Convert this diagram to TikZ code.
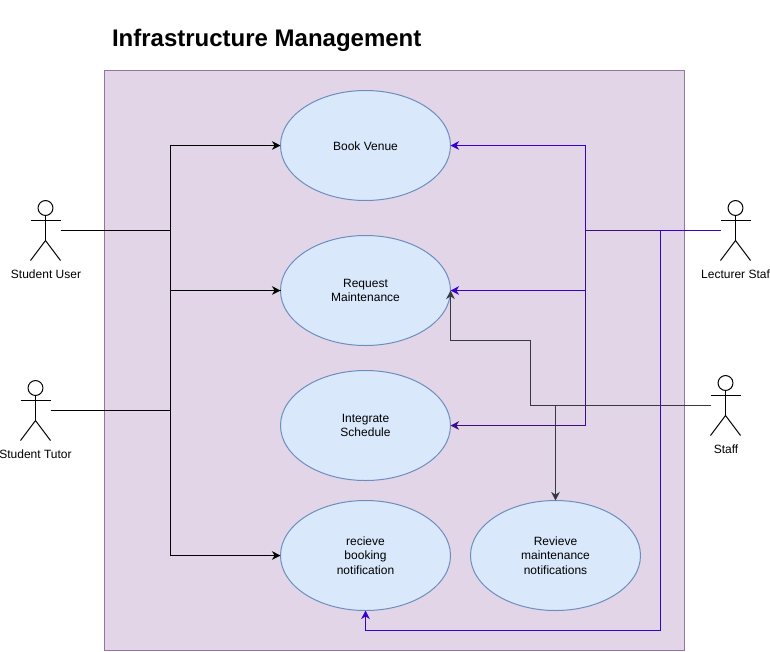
\documentclass[tikz,border=0pt]{standalone}
\usepackage{fontspec}
\setmainfont{Liberation Sans}
\usetikzlibrary{arrows.meta,shapes.geometric,calc}
\definecolor{framefill}{HTML}{E1D5E7}
\definecolor{framedraw}{HTML}{9673A6}
\definecolor{ucfill}{HTML}{DAE8FC}
\definecolor{ucdraw}{HTML}{6C8EBF}
\definecolor{linkblue}{HTML}{3700CC}
\definecolor{linkdeep}{HTML}{3F0A8C}
\definecolor{linkgrey}{HTML}{36393D}
\tikzset{
  x=0.75pt,y=-0.75pt,
  every node/.style={font=\fontsize{9}{11}\selectfont,inner sep=0pt,outer sep=0pt,text=black},
  usecase/.style={ellipse,draw=ucdraw,fill=ucfill,line width=0.75pt,minimum width=127.5pt,minimum height=82.5pt,align=center,execute at begin node={\rule{0pt}{7.6pt}}},
  actorbox/.style={rectangle,minimum width=22.5pt,minimum height=45pt},
  actorline/.style={draw=black,line width=0.75pt},
  link/.style={line width=0.75pt,-{Stealth[length=6.4pt,width=6.4pt,inset=2pt]}},
  plain/.style={line width=0.75pt},
}
\newcommand{\stickman}[1]{%
  \draw[actorline] ($(#1.north)+(0,7.5)$) circle[radius=5.6pt];
  \draw[actorline] ($(#1.north)+(0,15)$) -- ($(#1.north)+(0,40)$);
  \draw[actorline] ($(#1.north west)+(0,20)$) -- ($(#1.north east)+(0,20)$);
  \draw[actorline] ($(#1.south west)$) -- ($(#1.north)+(0,40)$) -- ($(#1.south east)$);
}
\begin{document}
\begin{tikzpicture}
\useasboundingbox (0,0) rectangle (770,651);
\node[draw=framedraw,fill=framefill,line width=0.75pt,minimum width=435pt,minimum height=435pt,rectangle] (frame) at (394.5,360.5) {};
\node[font=\fontsize{18}{21}\selectfont\bfseries,anchor=west] (title) at (112,40) {Infrastructure Management};

\node[usecase] (book) at (365.5,145.5) {Book Venue};
\node[usecase] (request) at (365.5,290.5) {Request\\Maintenance};
\node[usecase] (integrate) at (365.5,425.5) {Integrate\\Schedule};
\node[usecase] (recieve) at (365.5,555.5) {recieve\\booking\\notification};
\node[usecase] (revieve) at (555.5,555.5) {Revieve\\maintenance\\notifications};

\node[actorbox] (suser) at (45.5,230.5) {};
\node[actorbox] (stutor) at (35.5,410.5) {};
\node[actorbox] (lect) at (735.5,230.5) {};
\node[actorbox] (staff) at (725.5,405.5) {};
\stickman{suser}\stickman{stutor}\stickman{lect}\stickman{staff}
\node (lsuser) at (46,274) {Student User};
\node (lstutor) at (35.5,454) {Student Tutor};
\node (llect) at (735.5,274) {Lecturer Staf};
\node (lstaff) at (726,449) {Staff};

\coordinate (busleft) at (170.5,0);
\coordinate (busright) at (585.5,0);
\coordinate (buslow) at (660.5,630.5);
\coordinate (stepa) at (530.5,405.5);
\coordinate (stepb) at (450.5,340.5);

% student connectors
\draw[link,black] (suser.east) -- (suser.east -| busleft) |- (book.west);
\draw[link,black] (suser.east) -- (suser.east -| busleft) |- (request.west);
\draw[plain,black] (stutor.east) -- (stutor.east -| busleft) |- (request.west);
\draw[link,black] (stutor.east) -- (stutor.east -| busleft) |- (recieve.west);

% lecturer connectors
\draw[link,linkblue] (lect.west) -- (lect.west -| busright) |- (book.east);
\draw[link,linkblue] (lect.west) -- (lect.west -| busright) |- (request.east);
\draw[link,linkdeep] (lect.west -| buslow) -- (lect.west -| busright) |- (integrate.east);
\draw[plain,linkblue] (lect.west) -- (lect.west -| buslow);
\draw[link,linkblue] (lect.west -| buslow) -- (buslow) -| (recieve.south);

% staff connectors
\draw[link,linkgrey] (staff.west) -- (stepa) |- (stepb) -- (request.east);
\draw[link,linkgrey] (staff.west) -- (staff.west -| revieve.north) -- (revieve.north);
\end{tikzpicture}
\end{document}
